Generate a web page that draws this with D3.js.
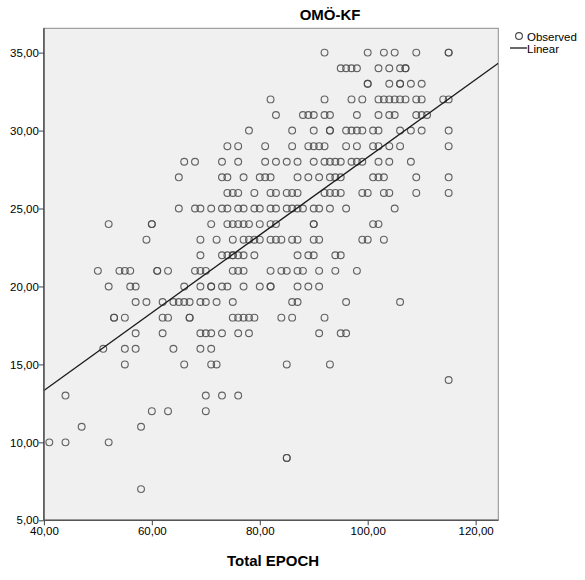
<!DOCTYPE html>
<html>
<head>
<meta charset="utf-8">
<script src="https://cdn.jsdelivr.net/npm/d3@7"></script>
<style>
  html, body { margin: 0; padding: 0; background: #ffffff; }
  svg { display: block; }
  text { font-family: 'Liberation Sans Narrow', 'Arial Narrow', 'Liberation Sans', Arial, sans-serif; fill: #000; }
</style>
</head>
<body>
<svg id="chart" width="585" height="580"></svg>
<script>
// ---- Data ----
const title = "OMÖ-KF";
const xLabel = "Total EPOCH";
const xTicks = [40, 60, 80, 100, 120];
const yTicks = [5, 10, 15, 20, 25, 30, 35];
const legendLabels = ["Observed", "Linear"];

// Observed points: Total EPOCH (x) paired with OMÖ-KF (y), grouped by y row
const totalEpoch = [
  92, 100, 103, 105, 109, 115, 115,
  95, 96, 97, 98, 102, 104, 106, 107, 107,
  100, 100, 104, 106, 106, 108, 110,
  82, 92, 97, 99, 102, 103, 104, 105, 106, 107, 109, 110, 114, 115,
  83, 88, 89, 90, 92, 93, 98, 102, 104, 105, 109, 110, 111,
  78, 86, 90, 93, 93, 96, 97, 98, 99, 101, 102, 106, 108, 110, 115,
  74, 76, 81, 86, 89, 90, 91, 92, 96, 98, 101, 102, 104, 106, 115,
  66, 68, 73, 76, 81, 83, 85, 87, 90, 92, 93, 94, 95, 97, 98, 99, 102, 104, 108,
  65, 73, 74, 77, 80, 81, 82, 87, 89, 91, 93, 94, 95, 101, 102, 103, 109, 115,
  74, 75, 76, 79, 82, 83, 85, 86, 87, 92, 93, 94, 95, 99, 100, 103, 104, 109, 115,
  65, 68, 69, 71, 73, 74, 76, 77, 79, 80, 82, 83, 85, 86, 87, 88, 90, 91, 93, 96, 105,
  52, 60, 60, 71, 74, 75, 76, 77, 78, 80, 82, 83, 90, 90, 101, 102,
  59, 69, 72, 75, 77, 78, 79, 80, 82, 83, 84, 86, 87, 90, 91, 99, 100, 103,
  69, 73, 74, 75, 75, 76, 77, 79, 87, 89, 90, 94, 95,
  50, 54, 55, 56, 61, 61, 63, 68, 69, 70, 75, 76, 77, 82, 84, 85, 87, 88, 91, 94, 98,
  52, 56, 57, 66, 69, 71, 71, 73, 74, 77, 80, 82, 82, 87, 89, 91,
  57, 59, 62, 64, 65, 66, 67, 69, 70, 72, 75, 86, 87, 96, 106,
  53, 53, 55, 62, 63, 67, 67, 75, 76, 77, 78, 79, 84, 86, 92,
  57, 62, 69, 70, 71, 73, 76, 78, 91, 95, 96,
  51, 55, 57, 64, 69, 71,
  55, 66, 71, 72, 85, 93,
  115,
  44, 70, 73, 76,
  60, 63, 70,
  47, 58,
  41, 44, 52,
  85, 85,
  58
];
const omoKf = [
  35, 35, 35, 35, 35, 35, 35,
  34, 34, 34, 34, 34, 34, 34, 34, 34,
  33, 33, 33, 33, 33, 33, 33,
  32, 32, 32, 32, 32, 32, 32, 32, 32, 32, 32, 32, 32, 32,
  31, 31, 31, 31, 31, 31, 31, 31, 31, 31, 31, 31, 31,
  30, 30, 30, 30, 30, 30, 30, 30, 30, 30, 30, 30, 30, 30, 30,
  29, 29, 29, 29, 29, 29, 29, 29, 29, 29, 29, 29, 29, 29, 29,
  28, 28, 28, 28, 28, 28, 28, 28, 28, 28, 28, 28, 28, 28, 28, 28, 28, 28, 28,
  27, 27, 27, 27, 27, 27, 27, 27, 27, 27, 27, 27, 27, 27, 27, 27, 27, 27,
  26, 26, 26, 26, 26, 26, 26, 26, 26, 26, 26, 26, 26, 26, 26, 26, 26, 26, 26,
  25, 25, 25, 25, 25, 25, 25, 25, 25, 25, 25, 25, 25, 25, 25, 25, 25, 25, 25, 25, 25,
  24, 24, 24, 24, 24, 24, 24, 24, 24, 24, 24, 24, 24, 24, 24, 24,
  23, 23, 23, 23, 23, 23, 23, 23, 23, 23, 23, 23, 23, 23, 23, 23, 23, 23,
  22, 22, 22, 22, 22, 22, 22, 22, 22, 22, 22, 22, 22,
  21, 21, 21, 21, 21, 21, 21, 21, 21, 21, 21, 21, 21, 21, 21, 21, 21, 21, 21, 21, 21,
  20, 20, 20, 20, 20, 20, 20, 20, 20, 20, 20, 20, 20, 20, 20, 20,
  19, 19, 19, 19, 19, 19, 19, 19, 19, 19, 19, 19, 19, 19, 19,
  18, 18, 18, 18, 18, 18, 18, 18, 18, 18, 18, 18, 18, 18, 18,
  17, 17, 17, 17, 17, 17, 17, 17, 17, 17, 17,
  16, 16, 16, 16, 16, 16,
  15, 15, 15, 15, 15, 15,
  14,
  13, 13, 13, 13,
  12, 12, 12,
  11, 11,
  10, 10, 10,
  9, 9,
  7
];

// Linear fit shown in the reference (intercept, slope)
const fitIntercept = 3.36;
const fitSlope = 0.2493;

// ---- Layout ----
const plot = { left: 43.9, right: 498.3, top: 28.3, bottom: 520.3 };
const xDomain = [40, 124.2];
const yDomain = [5, 36.56];

const svg = d3.select("#chart");
const x = d3.scaleLinear().domain(xDomain).range([plot.left, plot.right]);
const y = d3.scaleLinear().domain(yDomain).range([plot.bottom, plot.top]);
const fmt = d => d.toFixed(2).replace(".", ",");

// Plot background
svg.append("rect")
  .attr("x", plot.left).attr("y", plot.top)
  .attr("width", plot.right - plot.left).attr("height", plot.bottom - plot.top)
  .attr("fill", "#f0f0f0")
  .attr("stroke", "#8c8c8c").attr("stroke-width", 1);

// Clip for the marks
svg.append("clipPath").attr("id", "clip")
  .append("rect")
  .attr("x", plot.left).attr("y", plot.top)
  .attr("width", plot.right - plot.left).attr("height", plot.bottom - plot.top);

const points = totalEpoch.map((v, i) => ({ x: v, y: omoKf[i] }));

svg.append("g").attr("clip-path", "url(#clip)")
  .selectAll("circle").data(points).join("circle")
  .attr("cx", d => x(d.x)).attr("cy", d => y(d.y))
  .attr("r", 3.4)
  .attr("fill", "none")
  .attr("stroke", "#4a4a4a")
  .attr("stroke-opacity", 0.85)
  .attr("stroke-width", 1.15);

// Fit line
const fitX = [xDomain[0], xDomain[1]];
svg.append("g").attr("clip-path", "url(#clip)")
  .append("line")
  .attr("x1", x(fitX[0])).attr("y1", y(fitIntercept + fitSlope * fitX[0]))
  .attr("x2", x(fitX[1])).attr("y2", y(fitIntercept + fitSlope * fitX[1]))
  .attr("stroke", "#1a1a1a").attr("stroke-width", 1.3);

// Axes
const xAxis = d3.axisBottom(x).tickValues(xTicks).tickFormat(fmt).tickSize(5).tickSizeOuter(0);
const yAxis = d3.axisLeft(y).tickValues(yTicks).tickFormat(fmt).tickSize(5).tickSizeOuter(0);

const gx = svg.append("g").attr("transform", `translate(0,${plot.bottom})`).call(xAxis);
const gy = svg.append("g").attr("transform", `translate(${plot.left},0)`).call(yAxis);

[gx, gy].forEach(g => {
  g.select(".domain").attr("stroke", "#555").attr("stroke-width", 1.6);
  g.selectAll(".tick line").attr("stroke", "#444").attr("stroke-width", 1);
  g.selectAll(".tick text").attr("font-size", 11.5).attr("fill", "#000")
    .style("font-family", "'Liberation Sans Narrow', 'Arial Narrow', 'Liberation Sans', sans-serif");
});
gx.select(".domain").attr("d", `M${plot.left},0H${plot.right}`);
gy.select(".domain").attr("d", `M0,${plot.bottom}V${plot.top}`);
gx.selectAll(".tick text").attr("dy", "0.55em").attr("y", 8);
gy.selectAll(".tick text").attr("x", -5);

// Title
svg.append("text")
  .attr("x", (plot.left + plot.right) / 2 + 59).attr("y", 20)
  .attr("text-anchor", "middle")
  .attr("font-size", 15).attr("font-weight", "bold")
  .text(title);

// X axis label
svg.append("text")
  .attr("x", (plot.left + plot.right) / 2 + 2).attr("y", 566)
  .attr("text-anchor", "middle")
  .attr("font-size", 15).attr("font-weight", "bold")
  .text(xLabel);

// Legend
const lg = svg.append("g");
lg.append("circle").attr("cx", 519).attr("cy", 36).attr("r", 3.4)
  .attr("fill", "none").attr("stroke", "#4a4a4a").attr("stroke-width", 1.15);
lg.append("text").attr("x", 527).attr("y", 40.5).attr("font-size", 11.5).text(legendLabels[0]);
lg.append("line").attr("x1", 510).attr("x2", 527).attr("y1", 48).attr("y2", 48)
  .attr("stroke", "#1a1a1a").attr("stroke-width", 1.3);
lg.append("text").attr("x", 527).attr("y", 52.5).attr("font-size", 11.5).text(legendLabels[1]);
</script>
</body>
</html>
